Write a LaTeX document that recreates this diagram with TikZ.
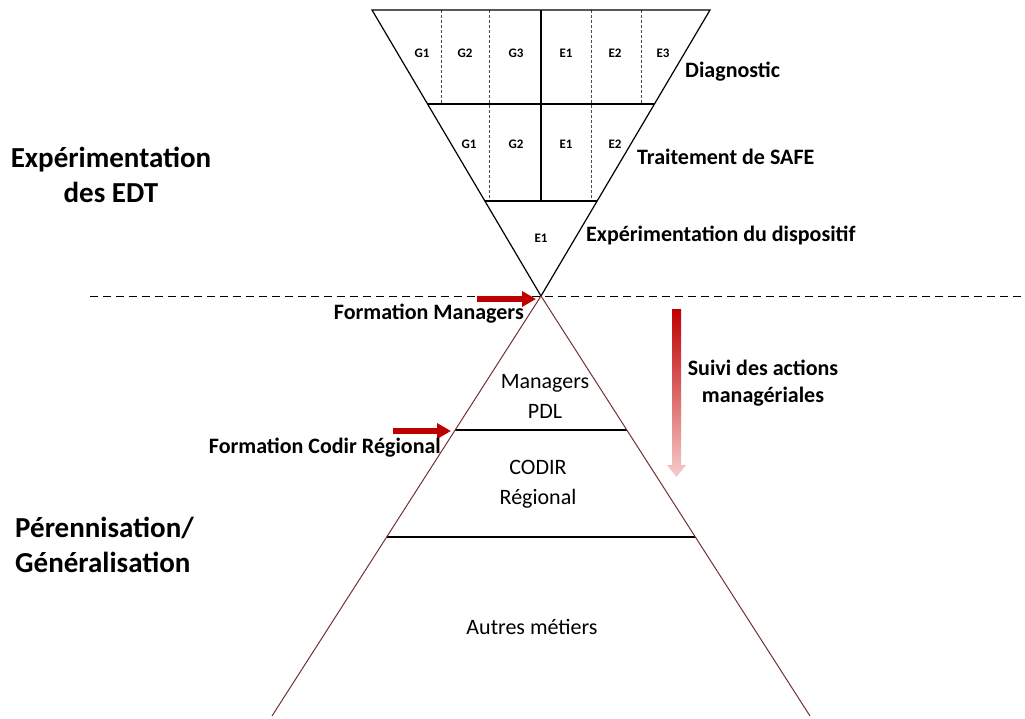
\documentclass[tikz,border=0pt]{standalone}
\usepackage{fontspec}
\setmainfont{Carlito}
\usetikzlibrary{arrows.meta,calc}
\definecolor{dred}{RGB}{192,0,0}
\definecolor{pinkend}{RGB}{246,205,205}
\definecolor{edgebrown}{RGB}{115,50,50}
\begin{document}
\begin{tikzpicture}[x=1pt,y=-1pt,
  lbl/.style={inner sep=0pt,font=\fontsize{22}{27}\selectfont\bfseries},
  big/.style={inner sep=0pt,font=\fontsize{29}{35}\selectfont\bfseries},
  cell/.style={inner sep=0pt,font=\fontsize{13}{15}\selectfont\bfseries},
  inlbl/.style={inner sep=0pt,align=center,font=\fontsize{22}{30}\selectfont},
  tri/.style={line width=1.2pt,black},
  row/.style={line width=1.9pt,black},
  sep/.style={dashed,dash pattern=on 3pt off 2pt,gray!60!black,line width=0.9pt},
  pyr/.style={line width=1pt,edgebrown},
  pyrrow/.style={line width=1.4pt,black},
  redarrow/.style={dred,line width=6pt,-{Triangle[length=14pt,width=15pt]}}
]
\useasboundingbox (0,0) rectangle (1025,718);
\fill[white] (0,0) rectangle (1025,718);

% inverted triangle
\coordinate (TL) at (372,10);
\coordinate (TR) at (710,10);
\coordinate (A) at (541,296);
\coordinate (R1L) at ($(TL)!0.3287!(A)$);
\coordinate (R1R) at ($(TR)!0.3287!(A)$);
\coordinate (R2L) at ($(TL)!0.6678!(A)$);
\coordinate (R2R) at ($(TR)!0.6678!(A)$);
\coordinate (Ctop) at (541,10);
\coordinate (Cbot) at (541,201);
\coordinate (d1t) at (441,10);  \coordinate (d1b) at (441,104);
\coordinate (d2t) at (489,10);  \coordinate (d2b) at (489,201);
\coordinate (d3t) at (591,10);  \coordinate (d3b) at (591,201);
\coordinate (d4t) at (641,10);  \coordinate (d4b) at (641,104);

\draw[sep] (d1t) -- (d1b);
\draw[sep] (d2t) -- (d2b);
\draw[sep] (d3t) -- (d3b);
\draw[sep] (d4t) -- (d4b);
\draw[row] (Ctop) -- (Cbot);
\draw[row] (R1L) -- (R1R);
\draw[row] (R2L) -- (R2R);
\draw[tri] (TL) -- (TR) -- (A) -- cycle;

\node[cell] (g1a) at (422,53) {G1};
\node[cell] (g2a) at (465,53) {G2};
\node[cell] (g3a) at (516,53) {G3};
\node[cell] (e1a) at (566,53) {E1};
\node[cell] (e2a) at (615,53) {E2};
\node[cell] (e3a) at (663,53) {E3};
\node[cell] (g1b) at (469,144) {G1};
\node[cell] (g2b) at (516,144) {G2};
\node[cell] (e1b) at (566,144) {E1};
\node[cell] (e2b) at (615,144) {E2};
\node[cell] (e1c) at (541,238) {E1};

\node[lbl,anchor=west] (diag) at (685,72) {Diagnostic};
\node[lbl,anchor=west] (trait) at (637,157) {Traitement de SAFE};
\node[lbl,anchor=west] (expd) at (586,235) {Expérimentation du dispositif};

% dashed separator
\coordinate (sepL) at (90,296);
\coordinate (sepR) at (1023,296);
\draw[dashed,dash pattern=on 8pt off 5pt,line width=1pt] (sepL) -- (sepR);

% pyramid
\coordinate (BL) at (272,716);
\coordinate (BR) at (810,716);
\coordinate (P1L) at ($(A)!0.319!(BL)$);
\coordinate (P1R) at ($(A)!0.319!(BR)$);
\coordinate (P2L) at ($(A)!0.574!(BL)$);
\coordinate (P2R) at ($(A)!0.574!(BR)$);
\draw[pyrrow] (P1L) -- (P1R);
\draw[pyrrow] (P2L) -- (P2R);
\draw[pyr] (BL) -- (A) -- (BR);

\node[inlbl] (mgr) at (545,396) {Managers\\PDL};
\node[inlbl] (codir) at (538,484) {CODIR\\Régional};
\node[inlbl] (autres) at (532,627) {Autres métiers};

% left titles
\node[big,align=center] (expe) at (111,175) {Expérimentation\\des EDT};
\node[big,align=left,anchor=west] (peren) at (15,545) {Pérennisation/\\Généralisation};

% red arrows
\coordinate (fm0) at (477,299);
\coordinate (fm1) at (536,299);
\draw[redarrow] (fm0) -- (fm1);
\node[lbl,anchor=east] (fmgr) at (524,314) {Formation Managers};
\coordinate (fc0) at (393,431);
\coordinate (fc1) at (451,431);
\draw[redarrow] (fc0) -- (fc1);
\node[lbl,anchor=east] (fcod) at (441,448) {Formation Codir Régional};

% gradient arrow
\shade[top color=dred,bottom color=pinkend]
  (672,309) -- (681,309) -- (681,465) -- (686,465) -- (676.5,477) -- (667,465) -- (672,465) -- cycle;
\node[lbl,align=center] (suivi) at (763,383) {Suivi des actions\\managériales};
\end{tikzpicture}
\end{document}
